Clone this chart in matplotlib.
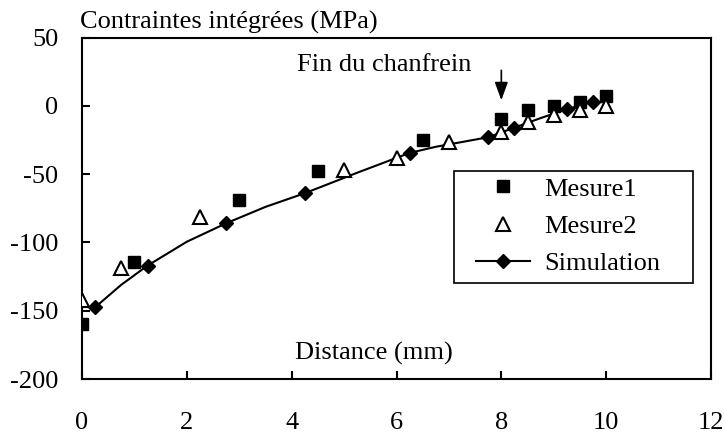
import matplotlib
matplotlib.use("Agg")
import matplotlib.pyplot as plt
from matplotlib.patches import Rectangle

plt.rcParams['font.family'] = ['Liberation Serif', 'DejaVu Serif']

# Data
m1_x = [0, 1, 3, 4.5, 6.5, 8, 8.5, 9, 9.5, 10]
m1_y = [-160, -114, -69, -48, -25, -10, -3, 0, 3, 7]

m2_x = [0, 0.75, 2.25, 5, 6, 7, 8, 8.5, 9, 9.5, 10]
m2_y = [-142, -118.5, -81.5, -47, -38, -26.5, -19, -11.5, -7, -3, 0]

sim_x = [0.25, 0.75, 1.25, 2.0, 2.75, 3.5, 4.25, 5.25, 6.25, 6.75, 7.75, 8.25, 8.75, 9.25, 9.75]
sim_y = [-147.5, -131, -117, -99.5, -86, -74, -64, -49, -34.5, -30, -23, -16, -9, -2.5, 3]
sim_marker_idx = [0, 2, 4, 6, 8, 10, 11, 13, 14]

x_ticks = [0, 2, 4, 6, 8, 10, 12]
y_ticks = [-200, -150, -100, -50, 0, 50]

FS = 19
W, H = 724, 433
fig = plt.figure(figsize=(W / 100, H / 100), dpi=100)
L, R, T, B = 82, 711, 37.5, 379
ax = fig.add_axes([L / W, 1 - B / H, (R - L) / W, (B - T) / H])

def ax_x(px):
    return (px - L) / (R - L)

def ax_y(py):
    return (B - py) / (B - T)

ax.plot(sim_x, sim_y, color='black', lw=1.5, marker='D', markersize=7.5,
        markevery=sim_marker_idx, markerfacecolor='black', markeredgecolor='black',
        label='Simulation', zorder=3)
ax.plot(m1_x, m1_y, linestyle='none', marker='s', markersize=8.5,
        markerfacecolor='black', markeredgecolor='black', label='Mesure1', zorder=4)
ax.plot(m2_x, m2_y, linestyle='none', marker='^', markersize=10,
        markerfacecolor='white', markeredgecolor='black', markeredgewidth=1.5,
        label='Mesure2', zorder=4)

ax.set_xlim(0, 12)
ax.set_ylim(-200, 50)
ax.set_xticks(x_ticks)
ax.set_yticks(y_ticks)
ax.set_xticklabels([str(t) for t in x_ticks])
ax.set_yticklabels([str(t) for t in y_ticks])
ax.tick_params(direction='in', length=6, width=1.5, labelsize=FS, colors='black')
ax.tick_params(axis='x', pad=24)
ax.tick_params(axis='y', pad=17)
for s in ax.spines.values():
    s.set_linewidth(1.5)
    s.set_color('black')

handles, labels = ax.get_legend_handles_labels()
order = [1, 2, 0]
leg = ax.legend([handles[i] for i in order], [labels[i] for i in order],
                loc='center left', bbox_to_anchor=(ax_x(476), ax_y(226)),
                borderaxespad=0, borderpad=0, frameon=False,
                fontsize=FS, handlelength=2.05, labelspacing=0.52, handletextpad=0.55)
ax.add_patch(Rectangle((ax_x(454), ax_y(283)), ax_x(693) - ax_x(454), ax_y(171) - ax_y(283),
                       transform=ax.transAxes, fill=False, edgecolor='black', lw=1.2,
                       zorder=5))

fig.text(80 / W, 1 - 29 / H, 'Contraintes intégrées (MPa)', fontsize=FS,
         ha='left', va='baseline')
ax.text(5.76, 25.5, 'Fin du chanfrein', fontsize=FS, ha='center', va='baseline')
ax.text(5.57, -186, 'Distance (mm)', fontsize=FS, ha='center', va='baseline')
ax.annotate('', xy=(8, 2), xytext=(8, 28),
            arrowprops=dict(arrowstyle='-|>,head_length=1.1,head_width=0.4',
                            mutation_scale=10, color='black', lw=1.2))

fig.savefig('out.png', dpi=100)
